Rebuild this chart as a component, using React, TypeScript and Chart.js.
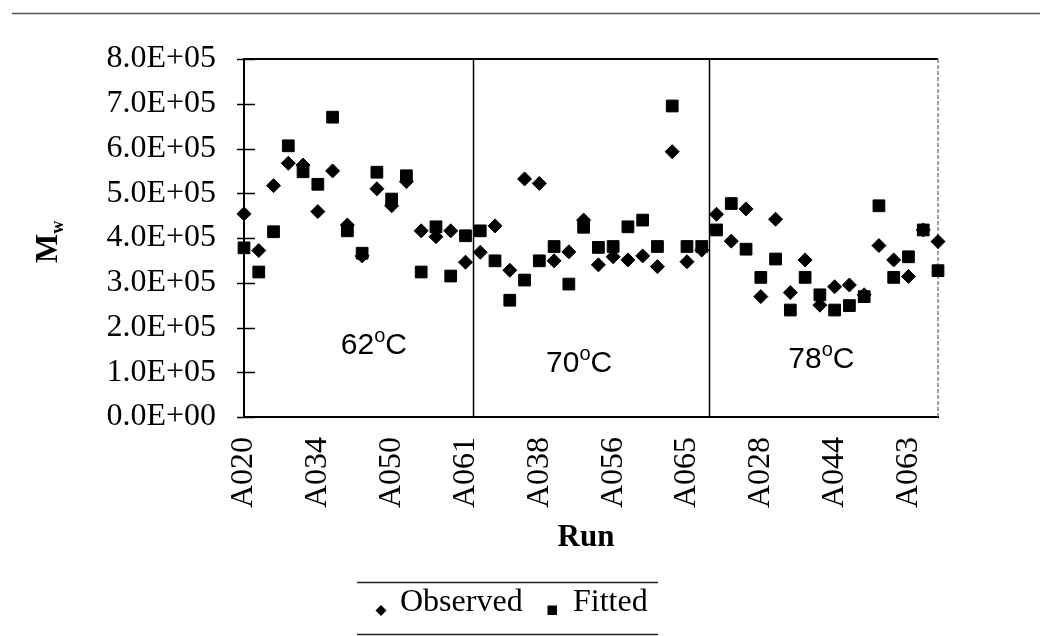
import React, { useEffect, useRef } from "react";
import { Chart, registerables } from "chart.js";

Chart.register(...registerables);

// Run names: only every 5th category label is legible in the reference.
const categories: string[] = [
  "A020", "", "", "", "", "A034", "", "", "", "", "A050", "", "", "", "", "A061",
  "", "", "", "", "A038", "", "", "", "", "A056", "", "", "", "", "A065", "",
  "", "", "", "A028", "", "", "", "", "A044", "", "", "", "", "A063", "", "",
];

const observed: number[] = [
  454000, 372000, 517000, 567000, 563000, 459000, 550000, 429000, 360000, 510000, 472000, 526000, 416000, 403000, 416000, 346000,
  368000, 427000, 328000, 532000, 522000, 349000, 369000, 440000, 340000, 358000, 351000, 360000, 336000, 593000, 347000, 373000,
  453000, 393000, 465000, 269000, 442000, 278000, 351000, 250000, 291000, 295000, 273000, 383000, 351000, 314000, 418000, 392000,
];

const fitted: number[] = [
  378000, 324000, 414000, 606000, 548000, 520000, 670000, 416000, 366000, 547000, 487000, 539000, 324000, 425000, 315000, 405000,
  416000, 349000, 261000, 306000, 349000, 381000, 297000, 424000, 379000, 381000, 425000, 440000, 381000, 695000, 381000, 381000,
  418000, 477000, 375000, 312000, 353000, 239000, 312000, 273000, 239000, 249000, 269000, 472000, 312000, 358000, 418000, 327000,
];

const yTickLabels: string[] = [
  "0.0E+00", "1.0E+05", "2.0E+05", "3.0E+05", "4.0E+05", "5.0E+05", "6.0E+05", "7.0E+05", "8.0E+05",
];

// Temperature groups: separators between groups (category index), and group labels.
const groupSeparators: number[] = [15.5, 31.5];
const groupTemps: string[] = ["62", "70", "78"];
const groupLabelAt: number[] = [8.8, 22.7, 39.1];
const groupLabelValue: number[] = [141000, 101000, 109000];

const seriesNames: string[] = ["Observed", "Fitted"];

const SERIF = "'Liberation Serif', 'Times New Roman', serif";
const SANS = "'Liberation Sans', Arial, sans-serif";

const decorPlugin = {
  id: "decor",
  beforeDatasetsDraw(chart: any) {
    const { ctx, chartArea: a, scales } = chart;
    const x = scales.x;
    const y = scales.y;
    ctx.save();
    const line = (x1: number, y1: number, x2: number, y2: number) => {
      ctx.beginPath();
      ctx.moveTo(x1, y1);
      ctx.lineTo(x2, y2);
      ctx.stroke();
    };
    // top frame
    ctx.strokeStyle = "#000";
    ctx.lineWidth = 2;
    line(a.left - 1, a.top, a.right, a.top);
    // right frame (faint, broken in the scan)
    ctx.setLineDash([4, 2]);
    ctx.strokeStyle = "#666";
    ctx.lineWidth = 1.2;
    line(a.right, a.top, a.right, a.bottom);
    ctx.setLineDash([]);
    // group separators
    ctx.strokeStyle = "#000";
    ctx.lineWidth = 1.5;
    groupSeparators.forEach((s) => {
      const px = Math.round(x.getPixelForValue(s)) + 0.5;
      line(px, a.top, px, a.bottom);
    });
    // y tick marks crossing the axis
    ctx.lineWidth = 1.5;
    y.ticks.forEach((t: any) => {
      const py = Math.round(y.getPixelForValue(t.value)) + 0.5;
      line(a.left - 7, py, a.left + 11, py);
    });
    ctx.restore();
  },
  afterDraw(chart: any) {
    const { ctx, scales } = chart;
    const x = scales.x;
    const y = scales.y;
    ctx.save();
    const line = (x1: number, y1: number, x2: number, y2: number) => {
      ctx.beginPath();
      ctx.moveTo(x1, y1);
      ctx.lineTo(x2, y2);
      ctx.stroke();
    };
    // page rule at the very top
    ctx.strokeStyle = "#555";
    ctx.lineWidth = 1.5;
    line(12, 13.5, 1040, 13.5);

    ctx.fillStyle = "#000";
    // group temperature labels
    groupTemps.forEach((t, i) => {
      const cx = x.getPixelForValue(groupLabelAt[i]);
      const by = y.getPixelForValue(groupLabelValue[i]);
      ctx.font = `30px ${SANS}`;
      const w1 = ctx.measureText(t).width;
      const wC = ctx.measureText("C").width;
      ctx.font = `20px ${SANS}`;
      const wo = ctx.measureText("o").width;
      const total = w1 + wo + wC;
      let sx = cx - total / 2;
      ctx.textAlign = "left";
      ctx.textBaseline = "alphabetic";
      ctx.font = `30px ${SANS}`;
      ctx.fillText(t, sx, by);
      sx += w1;
      ctx.font = `20px ${SANS}`;
      ctx.fillText("o", sx, by - 12);
      sx += wo;
      ctx.font = `30px ${SANS}`;
      ctx.fillText("C", sx, by);
    });

    // y axis title: M with subscript w, rotated
    ctx.save();
    ctx.translate(57, 263);
    ctx.rotate(-Math.PI / 2);
    ctx.textAlign = "left";
    ctx.textBaseline = "alphabetic";
    ctx.font = `bold 31px ${SERIF}`;
    ctx.fillText("M", 0, 0);
    const mw = ctx.measureText("M").width;
    ctx.font = `bold 18px ${SERIF}`;
    ctx.fillText("w", mw, 6);
    ctx.restore();

    // x axis title
    ctx.font = `bold 31px ${SERIF}`;
    ctx.textAlign = "center";
    ctx.textBaseline = "alphabetic";
    ctx.fillText("Run", 586, 546);

    // legend
    ctx.strokeStyle = "#222";
    ctx.lineWidth = 1.5;
    line(357, 582.5, 658, 582.5);
    line(357, 634.5, 658, 634.5);
    ctx.fillStyle = "#000";
    ctx.beginPath();
    ctx.moveTo(381, 605);
    ctx.lineTo(386.5, 610.5);
    ctx.lineTo(381, 616);
    ctx.lineTo(375.5, 610.5);
    ctx.closePath();
    ctx.fill();
    ctx.fillRect(547.5, 605.5, 9.5, 9.5);
    ctx.font = `32px ${SERIF}`;
    ctx.textAlign = "left";
    ctx.fillText(seriesNames[0], 400, 611);
    ctx.fillText(seriesNames[1], 573, 611);
    ctx.restore();
  },
};

export default function App() {
  const ref = useRef<HTMLCanvasElement>(null);
  useEffect(() => {
    document.body.style.margin = "0";
    const chart = new Chart(ref.current as HTMLCanvasElement, {
      type: "line",
      data: {
        labels: categories,
        datasets: [
          {
            label: seriesNames[0],
            data: observed,
            showLine: false,
            pointStyle: "rectRot",
            pointRadius: 7,
            pointBackgroundColor: "#000",
            pointBorderColor: "#000",
            pointBorderWidth: 1,
            order: 2,
            clip: false,
          },
          {
            label: seriesNames[1],
            data: fitted,
            showLine: false,
            pointStyle: "rect",
            pointRadius: 8.3,
            pointBackgroundColor: "#000",
            pointBorderColor: "#000",
            pointBorderWidth: 1,
            order: 1,
            clip: false,
          },
        ],
      },
      options: {
        responsive: false,
        animation: false,
        devicePixelRatio: 1,
        layout: { padding: { top: 59, right: 105, left: 0, bottom: 0 } },
        plugins: {
          legend: { display: false },
          tooltip: { enabled: false },
          title: { display: false },
        },
        scales: {
          x: {
            type: "category",
            offset: false,
            grid: { display: false, drawTicks: false },
            border: { display: true, color: "#000", width: 2 },
            ticks: {
              autoSkip: false,
              maxRotation: 90,
              minRotation: 90,
              padding: 20,
              color: "#000",
              font: { family: SERIF, size: 32 },
              callback: (_v: any, i: number) => categories[i],
            },
            afterFit: (s: any) => {
              s.height = 219;
            },
          },
          y: {
            min: 0,
            max: 800000,
            grid: { display: false, drawTicks: false },
            border: { display: true, color: "#000", width: 2 },
            ticks: {
              stepSize: 100000,
              padding: 28,
              color: "#000",
              font: { family: SERIF, size: 32 },
              callback: (_v: any, i: number) => yTickLabels[i],
            },
            afterFit: (s: any) => {
              s.width = 244;
            },
          },
        },
      },
      plugins: [decorPlugin],
    } as any);
    return () => chart.destroy();
  }, []);
  return (
    <div style={{ width: 1043, height: 636 }}>
      <canvas ref={ref} width={1043} height={636} style={{ display: "block" }} />
    </div>
  );
}
